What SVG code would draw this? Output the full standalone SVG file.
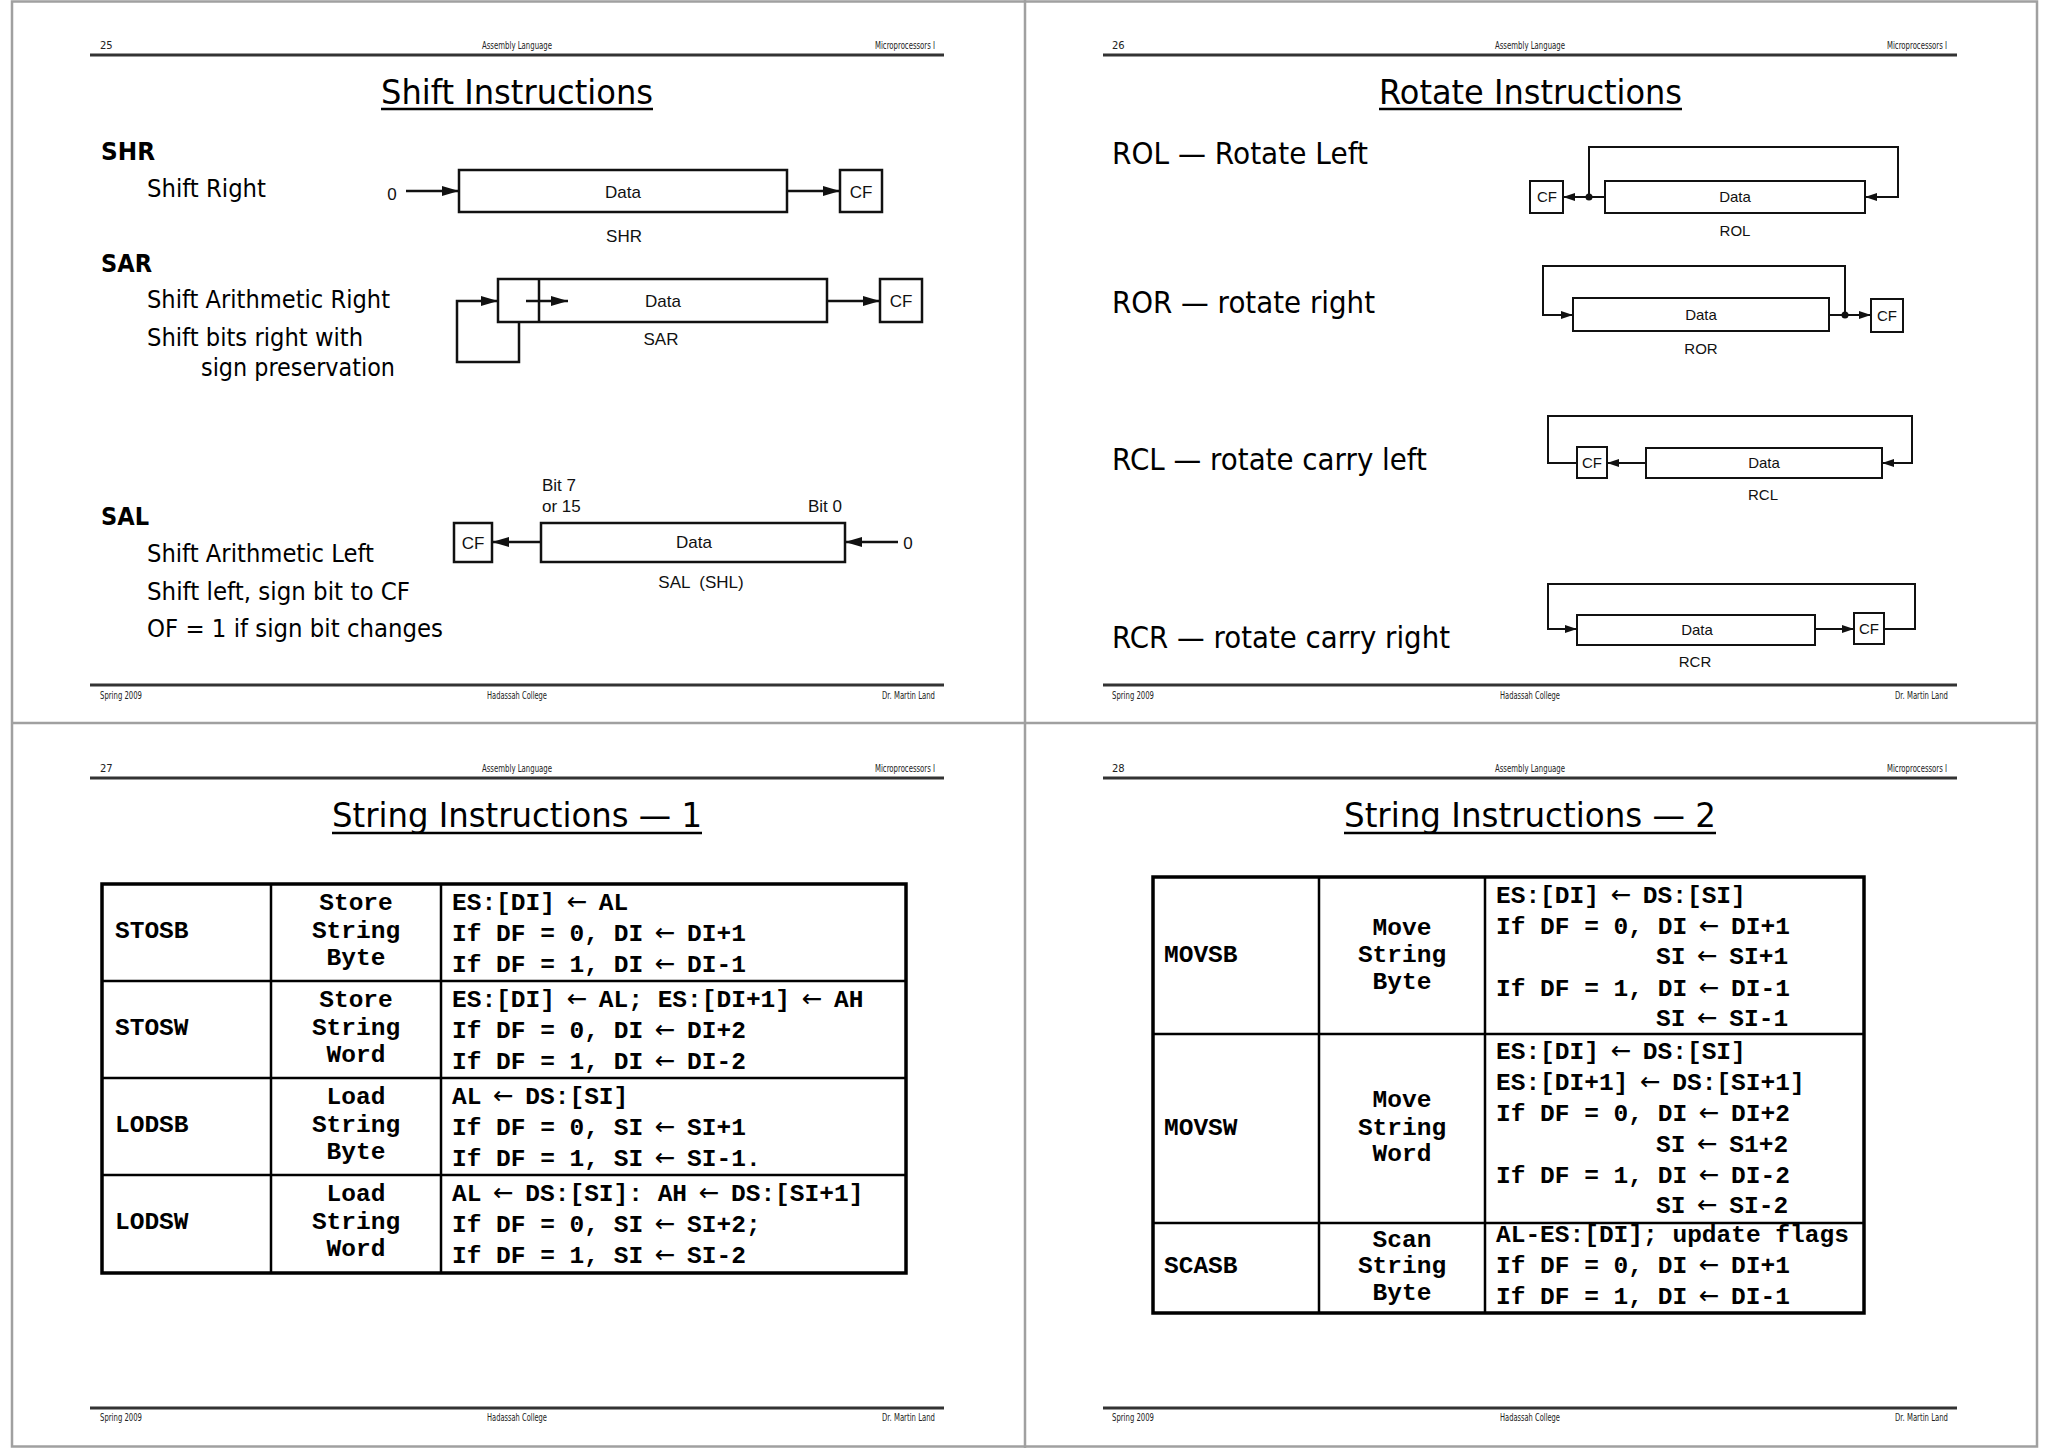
<svg xmlns="http://www.w3.org/2000/svg" width="2048" height="1448" viewBox="0 0 2048 1448">
<style>
.frame{fill:none;stroke:#a0a0a0;stroke-width:2.5}
.hl{stroke:#333;stroke-width:3}
.hdr{font-family:"DejaVu Sans","Liberation Sans",sans-serif;font-size:10px;fill:#222}
.title{font-family:"DejaVu Sans","Liberation Sans",sans-serif;font-size:33px;fill:#000}
.ul{stroke:#000;stroke-width:2.5}
.body{font-family:"DejaVu Sans","Liberation Sans",sans-serif;font-size:24px;fill:#000}
.bodyb{font-family:"DejaVu Sans","Liberation Sans",sans-serif;font-size:24px;font-weight:bold;fill:#000}
.rot{font-family:"DejaVu Sans","Liberation Sans",sans-serif;font-size:30px;fill:#000}
.box{fill:#fff;stroke:#111;stroke-width:2.5}
.sbox{fill:#fff;stroke:#111;stroke-width:2}
.dg{font-family:"Liberation Sans",Arial,sans-serif;font-size:17px;fill:#111}
.dgs{font-family:"Liberation Sans",Arial,sans-serif;font-size:15px;fill:#111}
.c{text-anchor:middle}
.wire{fill:none;stroke:#111;stroke-width:2.5}
.wireS{fill:none;stroke:#111;stroke-width:2}
.tb{fill:none;stroke:#000;stroke-width:3.5}
.tl{stroke:#000;stroke-width:2.5}
.mono{font-family:"Liberation Mono","DejaVu Sans Mono",monospace;font-weight:bold;font-size:24.5px;fill:#000}
.ar{font-family:"DejaVu Sans","Liberation Sans",sans-serif;font-weight:normal}
</style>
<defs>
<marker id="ah" markerUnits="userSpaceOnUse" markerWidth="18" markerHeight="12" refX="17" refY="6" orient="auto">
<path d="M0,1 L17,6 L0,11 z" fill="#111"/>
</marker>
<marker id="as" markerUnits="userSpaceOnUse" markerWidth="13" markerHeight="10" refX="12" refY="5" orient="auto">
<path d="M0,1 L12,5 L0,9 z" fill="#111"/>
</marker>
</defs>
<rect x="0" y="0" width="2048" height="1448" fill="#fff"/>

<g id="page-frame">
<rect class="frame" x="12" y="1.5" width="2025" height="1445"/>
<line class="frame" x1="1025" y1="0" x2="1025" y2="1448"/>
<line class="frame" x1="12" y1="723" x2="2037" y2="723"/>
</g>

<!-- ================= Slide 25 ================= -->
<g id="slide25">
<g id="s25-header">
<text class="hdr" x="100" y="49">25</text>
<text class="hdr c" x="517" y="49" textLength="70" lengthAdjust="spacingAndGlyphs">Assembly Language</text>
<text class="hdr" x="875" y="49" textLength="60" lengthAdjust="spacingAndGlyphs">Microprocessors I</text>
<line class="hl" x1="90" y1="55" x2="944" y2="55"/>
</g>
<g id="s25-title">
<text class="title" x="381" y="104" textLength="272" lengthAdjust="spacingAndGlyphs">Shift Instructions</text>
<line class="ul" x1="381" y1="109" x2="653" y2="109"/>
</g>
<g id="s25-text">
<text class="bodyb" x="101" y="160" textLength="54" lengthAdjust="spacingAndGlyphs">SHR</text>
<text class="body" x="147" y="197" textLength="119" lengthAdjust="spacingAndGlyphs">Shift Right</text>
<text class="bodyb" x="101" y="272" textLength="51" lengthAdjust="spacingAndGlyphs">SAR</text>
<text class="body" x="147" y="308" textLength="243" lengthAdjust="spacingAndGlyphs">Shift Arithmetic Right</text>
<text class="body" x="147" y="346" textLength="216" lengthAdjust="spacingAndGlyphs">Shift bits right with</text>
<text class="body" x="201" y="376" textLength="194" lengthAdjust="spacingAndGlyphs">sign preservation</text>
<text class="bodyb" x="101" y="525" textLength="48" lengthAdjust="spacingAndGlyphs">SAL</text>
<text class="body" x="147" y="562" textLength="227" lengthAdjust="spacingAndGlyphs">Shift Arithmetic Left</text>
<text class="body" x="147" y="600" textLength="263" lengthAdjust="spacingAndGlyphs">Shift left, sign bit to CF</text>
<text class="body" x="147" y="637" textLength="296" lengthAdjust="spacingAndGlyphs">OF = 1 if sign bit changes</text>
</g>

<g id="shr-diagram">
<g id="shr-zero"><text class="dg c" x="392" y="200" font-size="21">0</text></g>
<g id="shr-data"><rect class="box" x="459" y="170" width="328" height="42"/><text class="dg c" x="623" y="198">Data</text></g>
<g id="shr-cf"><rect class="box" x="840" y="170" width="42" height="42"/><text class="dg c" x="861" y="198" font-size="18">CF</text></g>
<text class="dg c" x="624" y="242" font-size="18">SHR</text>
</g>

<g id="sar-diagram">
<g id="sar-data"><rect class="box" x="498" y="279" width="329" height="43"/><line class="wire" x1="539" y1="279" x2="539" y2="322"/><text class="dg c" x="663" y="307">Data</text></g>
<g id="sar-cf"><rect class="box" x="880" y="279" width="42" height="43"/><text class="dg c" x="901" y="307" font-size="18">CF</text></g>
<text class="dg c" x="661" y="345" font-size="18">SAR</text>
</g>

<g id="sal-diagram">
<g id="sal-cf"><rect class="box" x="454" y="523" width="38" height="39"/><text class="dg c" x="473" y="549">CF</text></g>
<g id="sal-data"><rect class="box" x="541" y="523" width="304" height="39"/><text class="dg c" x="694" y="548">Data</text></g>
<g id="sal-zero"><text class="dg c" x="908" y="549" font-size="19">0</text></g>
<text class="dg" x="542" y="491">Bit 7</text>
<text class="dg" x="542" y="512">or 15</text>
<text class="dg" x="808" y="512">Bit 0</text>
<text class="dg c" x="701" y="588" xml:space="preserve">SAL  (SHL)</text>
</g>

<g id="s25-connectors">
<path class="wire" d="M406,191 H459" marker-end="url(#ah)"/>
<path class="wire" d="M787,191 H840" marker-end="url(#ah)"/>
<path class="wire" d="M519,322 V362 H457 V301 H498" marker-end="url(#ah)"/>
<path class="wire" d="M526,301 H568" marker-end="url(#ah)"/>
<path class="wire" d="M827,301 H880" marker-end="url(#ah)"/>
<path class="wire" d="M541,542 H492" marker-end="url(#ah)"/>
<path class="wire" d="M898,542 H845" marker-end="url(#ah)"/>
</g>

<g id="s25-footer">
<line class="hl" x1="90" y1="685" x2="944" y2="685"/>
<text class="hdr" x="100" y="699" textLength="42" lengthAdjust="spacingAndGlyphs">Spring 2009</text>
<text class="hdr c" x="517" y="699" textLength="60" lengthAdjust="spacingAndGlyphs">Hadassah College</text>
<text class="hdr" x="882" y="699" textLength="53" lengthAdjust="spacingAndGlyphs">Dr. Martin Land</text>
</g>
</g>

<!-- ================= Slide 26 ================= -->
<g id="slide26">
<g id="s26-header">
<text class="hdr" x="1112" y="49">26</text>
<text class="hdr c" x="1530" y="49" textLength="70" lengthAdjust="spacingAndGlyphs">Assembly Language</text>
<text class="hdr" x="1887" y="49" textLength="60" lengthAdjust="spacingAndGlyphs">Microprocessors I</text>
<line class="hl" x1="1103" y1="55" x2="1957" y2="55"/>
</g>
<g id="s26-title">
<text class="title" x="1379" y="104" textLength="303" lengthAdjust="spacingAndGlyphs">Rotate Instructions</text>
<line class="ul" x1="1379" y1="109" x2="1682" y2="109"/>
</g>
<g id="s26-text">
<text class="rot" x="1112" y="164" textLength="256" lengthAdjust="spacingAndGlyphs">ROL — Rotate Left</text>
<text class="rot" x="1112" y="313" textLength="263" lengthAdjust="spacingAndGlyphs">ROR — rotate right</text>
<text class="rot" x="1112" y="470" textLength="315" lengthAdjust="spacingAndGlyphs">RCL — rotate carry left</text>
<text class="rot" x="1112" y="648" textLength="338" lengthAdjust="spacingAndGlyphs">RCR — rotate carry right</text>
</g>

<g id="rol-diagram">
<g id="rol-cf"><rect class="sbox" x="1530" y="181" width="33" height="32"/><text class="dgs c" x="1547" y="202">CF</text></g>
<g id="rol-data"><rect class="sbox" x="1605" y="181" width="260" height="32"/><text class="dgs c" x="1735" y="202">Data</text></g>
<text class="dgs c" x="1735" y="236">ROL</text>
</g>
<g id="ror-diagram">
<g id="ror-data"><rect class="sbox" x="1573" y="298" width="256" height="33"/><text class="dgs c" x="1701" y="320">Data</text></g>
<g id="ror-cf"><rect class="sbox" x="1871" y="299" width="32" height="33"/><text class="dgs c" x="1887" y="321">CF</text></g>
<text class="dgs c" x="1701" y="354">ROR</text>
</g>
<g id="rcl-diagram">
<g id="rcl-cf"><rect class="sbox" x="1577" y="447" width="30" height="31"/><text class="dgs c" x="1592" y="468">CF</text></g>
<g id="rcl-data"><rect class="sbox" x="1646" y="448" width="236" height="30"/><text class="dgs c" x="1764" y="468">Data</text></g>
<text class="dgs c" x="1763" y="500">RCL</text>
</g>
<g id="rcr-diagram">
<g id="rcr-data"><rect class="sbox" x="1577" y="615" width="238" height="30"/><text class="dgs c" x="1697" y="635">Data</text></g>
<g id="rcr-cf"><rect class="sbox" x="1854" y="613" width="30" height="31"/><text class="dgs c" x="1869" y="634">CF</text></g>
<text class="dgs c" x="1695" y="667">RCR</text>
</g>

<g id="s26-connectors">
<path class="wireS" d="M1589,197 V147 H1898 V197 H1865" marker-end="url(#as)"/>
<path class="wireS" d="M1605,197 H1563" marker-end="url(#as)"/>
<circle cx="1589" cy="197" r="3.5" fill="#111"/>
<path class="wireS" d="M1845,315 V266 H1543 V315 H1573" marker-end="url(#as)"/>
<path class="wireS" d="M1829,315 H1871" marker-end="url(#as)"/>
<circle cx="1845" cy="315" r="3.5" fill="#111"/>
<path class="wireS" d="M1577,463 H1548 V416 H1912 V463 H1882" marker-end="url(#as)"/>
<path class="wireS" d="M1646,463 H1607" marker-end="url(#as)"/>
<path class="wireS" d="M1884,629 H1915 V584 H1548 V629 H1577" marker-end="url(#as)"/>
<path class="wireS" d="M1815,629 H1854" marker-end="url(#as)"/>
</g>

<g id="s26-footer">
<line class="hl" x1="1103" y1="685" x2="1957" y2="685"/>
<text class="hdr" x="1112" y="699" textLength="42" lengthAdjust="spacingAndGlyphs">Spring 2009</text>
<text class="hdr c" x="1530" y="699" textLength="60" lengthAdjust="spacingAndGlyphs">Hadassah College</text>
<text class="hdr" x="1895" y="699" textLength="53" lengthAdjust="spacingAndGlyphs">Dr. Martin Land</text>
</g>
</g>

<!-- ================= Slide 27 ================= -->
<g id="slide27">
<g id="s27-header">
<text class="hdr" x="100" y="772">27</text>
<text class="hdr c" x="517" y="772" textLength="70" lengthAdjust="spacingAndGlyphs">Assembly Language</text>
<text class="hdr" x="875" y="772" textLength="60" lengthAdjust="spacingAndGlyphs">Microprocessors I</text>
<line class="hl" x1="90" y1="778" x2="944" y2="778"/>
</g>
<g id="s27-title">
<text class="title" x="332" y="827" textLength="370" lengthAdjust="spacingAndGlyphs">String Instructions — 1</text>
<line class="ul" x1="332" y1="833" x2="702" y2="833"/>
</g>
<g id="table1">
<rect class="tb" x="102" y="884" width="804" height="389"/>
<line class="tl" x1="271" y1="884" x2="271" y2="1273"/>
<line class="tl" x1="441" y1="884" x2="441" y2="1273"/>
<line class="tl" x1="102" y1="981" x2="906" y2="981"/>
<line class="tl" x1="102" y1="1078" x2="906" y2="1078"/>
<line class="tl" x1="102" y1="1175" x2="906" y2="1175"/>
<g id="t1-stosb">
<text class="mono" x="115" y="938">STOSB</text>
<text class="mono c" x="356" y="910">Store</text><text class="mono c" x="356" y="938">String</text><text class="mono c" x="356" y="965">Byte</text>
<text class="mono" x="452" y="910">ES:[DI] <tspan class="ar" dx="-3">←</tspan><tspan dx="-3"> AL</tspan></text>
<text class="mono" x="452" y="941">If DF = 0, DI <tspan class="ar" dx="-3">←</tspan><tspan dx="-3"> DI+1</tspan></text>
<text class="mono" x="452" y="972">If DF = 1, DI <tspan class="ar" dx="-3">←</tspan><tspan dx="-3"> DI-1</tspan></text>
</g>
<g id="t1-stosw">
<text class="mono" x="115" y="1035">STOSW</text>
<text class="mono c" x="356" y="1007">Store</text><text class="mono c" x="356" y="1035">String</text><text class="mono c" x="356" y="1062">Word</text>
<text class="mono" x="452" y="1007">ES:[DI] <tspan class="ar" dx="-3">←</tspan><tspan dx="-3"> AL; ES:[DI+1] </tspan><tspan class="ar" dx="-3">←</tspan><tspan dx="-3"> AH</tspan></text>
<text class="mono" x="452" y="1038">If DF = 0, DI <tspan class="ar" dx="-3">←</tspan><tspan dx="-3"> DI+2</tspan></text>
<text class="mono" x="452" y="1069">If DF = 1, DI <tspan class="ar" dx="-3">←</tspan><tspan dx="-3"> DI-2</tspan></text>
</g>
<g id="t1-lodsb">
<text class="mono" x="115" y="1132">LODSB</text>
<text class="mono c" x="356" y="1104">Load</text><text class="mono c" x="356" y="1132">String</text><text class="mono c" x="356" y="1159">Byte</text>
<text class="mono" x="452" y="1104">AL <tspan class="ar" dx="-3">←</tspan><tspan dx="-3"> DS:[SI]</tspan></text>
<text class="mono" x="452" y="1135">If DF = 0, SI <tspan class="ar" dx="-3">←</tspan><tspan dx="-3"> SI+1</tspan></text>
<text class="mono" x="452" y="1166">If DF = 1, SI <tspan class="ar" dx="-3">←</tspan><tspan dx="-3"> SI-1.</tspan></text>
</g>
<g id="t1-lodsw">
<text class="mono" x="115" y="1229">LODSW</text>
<text class="mono c" x="356" y="1201">Load</text><text class="mono c" x="356" y="1229">String</text><text class="mono c" x="356" y="1256">Word</text>
<text class="mono" x="452" y="1201">AL <tspan class="ar" dx="-3">←</tspan><tspan dx="-3"> DS:[SI]: AH </tspan><tspan class="ar" dx="-3">←</tspan><tspan dx="-3"> DS:[SI+1]</tspan></text>
<text class="mono" x="452" y="1232">If DF = 0, SI <tspan class="ar" dx="-3">←</tspan><tspan dx="-3"> SI+2;</tspan></text>
<text class="mono" x="452" y="1263">If DF = 1, SI <tspan class="ar" dx="-3">←</tspan><tspan dx="-3"> SI-2</tspan></text>
</g>
</g>
<g id="s27-footer">
<line class="hl" x1="90" y1="1408" x2="944" y2="1408"/>
<text class="hdr" x="100" y="1421" textLength="42" lengthAdjust="spacingAndGlyphs">Spring 2009</text>
<text class="hdr c" x="517" y="1421" textLength="60" lengthAdjust="spacingAndGlyphs">Hadassah College</text>
<text class="hdr" x="882" y="1421" textLength="53" lengthAdjust="spacingAndGlyphs">Dr. Martin Land</text>
</g>
</g>

<!-- ================= Slide 28 ================= -->
<g id="slide28">
<g id="s28-header">
<text class="hdr" x="1112" y="772">28</text>
<text class="hdr c" x="1530" y="772" textLength="70" lengthAdjust="spacingAndGlyphs">Assembly Language</text>
<text class="hdr" x="1887" y="772" textLength="60" lengthAdjust="spacingAndGlyphs">Microprocessors I</text>
<line class="hl" x1="1103" y1="778" x2="1957" y2="778"/>
</g>
<g id="s28-title">
<text class="title" x="1344" y="827" textLength="372" lengthAdjust="spacingAndGlyphs">String Instructions — 2</text>
<line class="ul" x1="1344" y1="833" x2="1716" y2="833"/>
</g>
<g id="table2">
<rect class="tb" x="1153" y="877" width="711" height="436"/>
<line class="tl" x1="1319" y1="877" x2="1319" y2="1313"/>
<line class="tl" x1="1485" y1="877" x2="1485" y2="1313"/>
<line class="tl" x1="1153" y1="1034" x2="1864" y2="1034"/>
<line class="tl" x1="1153" y1="1223" x2="1864" y2="1223"/>
<g id="t2-movsb">
<text class="mono" x="1164" y="962">MOVSB</text>
<text class="mono c" x="1402" y="935">Move</text><text class="mono c" x="1402" y="962">String</text><text class="mono c" x="1402" y="989">Byte</text>
<text class="mono" x="1496" y="903">ES:[DI] <tspan class="ar" dx="-3">←</tspan><tspan dx="-3"> DS:[SI]</tspan></text>
<text class="mono" x="1496" y="934">If DF = 0, DI <tspan class="ar" dx="-3">←</tspan><tspan dx="-3"> DI+1</tspan></text>
<text class="mono" x="1656" y="964">SI <tspan class="ar" dx="-3">←</tspan><tspan dx="-3"> SI+1</tspan></text>
<text class="mono" x="1496" y="996">If DF = 1, DI <tspan class="ar" dx="-3">←</tspan><tspan dx="-3"> DI-1</tspan></text>
<text class="mono" x="1656" y="1026">SI <tspan class="ar" dx="-3">←</tspan><tspan dx="-3"> SI-1</tspan></text>
</g>
<g id="t2-movsw">
<text class="mono" x="1164" y="1135">MOVSW</text>
<text class="mono c" x="1402" y="1107">Move</text><text class="mono c" x="1402" y="1135">String</text><text class="mono c" x="1402" y="1161">Word</text>
<text class="mono" x="1496" y="1059">ES:[DI] <tspan class="ar" dx="-3">←</tspan><tspan dx="-3"> DS:[SI]</tspan></text>
<text class="mono" x="1496" y="1090">ES:[DI+1] <tspan class="ar" dx="-3">←</tspan><tspan dx="-3"> DS:[SI+1]</tspan></text>
<text class="mono" x="1496" y="1121">If DF = 0, DI <tspan class="ar" dx="-3">←</tspan><tspan dx="-3"> DI+2</tspan></text>
<text class="mono" x="1656" y="1152">SI <tspan class="ar" dx="-3">←</tspan><tspan dx="-3"> S1+2</tspan></text>
<text class="mono" x="1496" y="1183">If DF = 1, DI <tspan class="ar" dx="-3">←</tspan><tspan dx="-3"> DI-2</tspan></text>
<text class="mono" x="1656" y="1213">SI <tspan class="ar" dx="-3">←</tspan><tspan dx="-3"> SI-2</tspan></text>
</g>
<g id="t2-scasb">
<text class="mono" x="1164" y="1273">SCASB</text>
<text class="mono c" x="1402" y="1247">Scan</text><text class="mono c" x="1402" y="1273">String</text><text class="mono c" x="1402" y="1300">Byte</text>
<text class="mono" x="1496" y="1242">AL-ES:[DI]; update flags</text>
<text class="mono" x="1496" y="1273">If DF = 0, DI <tspan class="ar" dx="-3">←</tspan><tspan dx="-3"> DI+1</tspan></text>
<text class="mono" x="1496" y="1304">If DF = 1, DI <tspan class="ar" dx="-3">←</tspan><tspan dx="-3"> DI-1</tspan></text>
</g>
</g>
<g id="s28-footer">
<line class="hl" x1="1103" y1="1408" x2="1957" y2="1408"/>
<text class="hdr" x="1112" y="1421" textLength="42" lengthAdjust="spacingAndGlyphs">Spring 2009</text>
<text class="hdr c" x="1530" y="1421" textLength="60" lengthAdjust="spacingAndGlyphs">Hadassah College</text>
<text class="hdr" x="1895" y="1421" textLength="53" lengthAdjust="spacingAndGlyphs">Dr. Martin Land</text>
</g>
</g>
</svg>
